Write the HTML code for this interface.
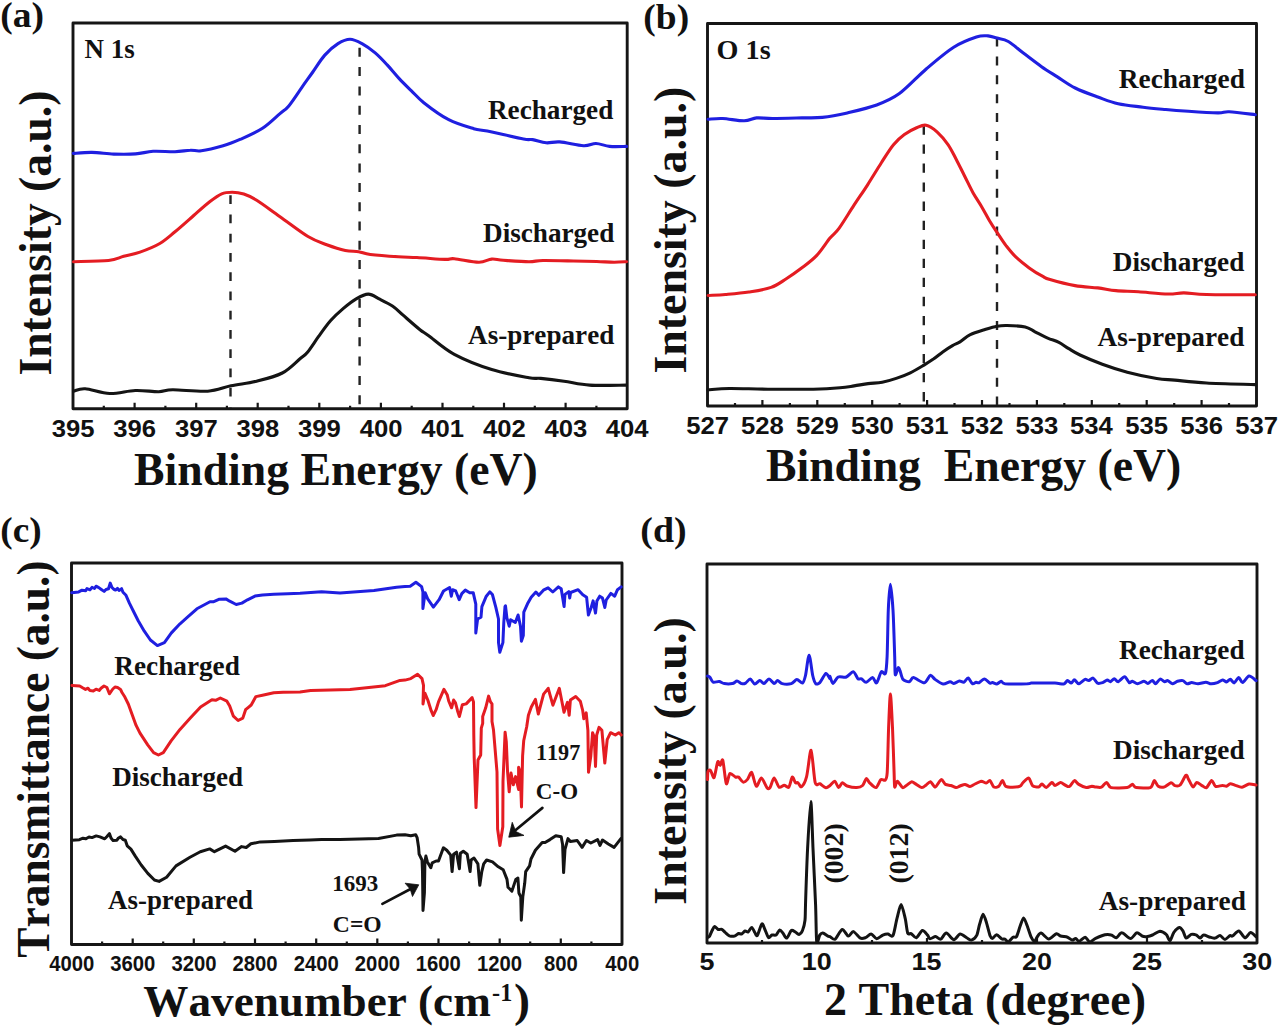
<!DOCTYPE html>
<html><head><meta charset="utf-8"><style>
html,body{margin:0;padding:0;background:#fff;}
body{width:1280px;height:1029px;overflow:hidden;font-family:"Liberation Serif", serif;}
svg{display:block;}
text{font-kerning:none;font-variant-ligatures:none;}
</style></head><body>
<svg width="1280" height="1029" viewBox="0 0 1280 1029">
<rect width="1280" height="1029" fill="#fff"/>
<rect x="73" y="23" width="554.2" height="385.8" fill="none" stroke="#161616" stroke-width="2.9" stroke-linejoin="round"/>
<path d="M134.6,408.8 V402.8 M196.2,408.8 V402.8 M257.7,408.8 V402.8 M319.3,408.8 V402.8 M380.9,408.8 V402.8 M442.5,408.8 V402.8 M504.0,408.8 V402.8 M565.6,408.8 V402.8 M103.8,408.8 V405.8 M165.4,408.8 V405.8 M226.9,408.8 V405.8 M288.5,408.8 V405.8 M350.1,408.8 V405.8 M411.7,408.8 V405.8 M473.3,408.8 V405.8 M534.8,408.8 V405.8 M596.4,408.8 V405.8 " stroke="#161616" stroke-width="2.2" fill="none"/>
<text transform="translate(51.65,437.00) scale(1.0350,1)" font-family='"Liberation Sans", sans-serif' font-weight="bold" font-size="24.80" fill="#111">395</text>
<text transform="translate(113.33,437.00) scale(1.0350,1)" font-family='"Liberation Sans", sans-serif' font-weight="bold" font-size="24.80" fill="#111">396</text>
<text transform="translate(175.01,437.00) scale(1.0350,1)" font-family='"Liberation Sans", sans-serif' font-weight="bold" font-size="24.80" fill="#111">397</text>
<text transform="translate(236.42,437.00) scale(1.0350,1)" font-family='"Liberation Sans", sans-serif' font-weight="bold" font-size="24.80" fill="#111">398</text>
<text transform="translate(298.08,437.00) scale(1.0350,1)" font-family='"Liberation Sans", sans-serif' font-weight="bold" font-size="24.80" fill="#111">399</text>
<text transform="translate(359.81,437.00) scale(1.0350,1)" font-family='"Liberation Sans", sans-serif' font-weight="bold" font-size="24.80" fill="#111">400</text>
<text transform="translate(421.22,437.00) scale(1.0350,1)" font-family='"Liberation Sans", sans-serif' font-weight="bold" font-size="24.80" fill="#111">401</text>
<text transform="translate(482.95,437.00) scale(1.0350,1)" font-family='"Liberation Sans", sans-serif' font-weight="bold" font-size="24.80" fill="#111">402</text>
<text transform="translate(544.48,437.00) scale(1.0350,1)" font-family='"Liberation Sans", sans-serif' font-weight="bold" font-size="24.80" fill="#111">403</text>
<text transform="translate(605.66,437.00) scale(1.0350,1)" font-family='"Liberation Sans", sans-serif' font-weight="bold" font-size="24.80" fill="#111">404</text>
<line x1="230.5" y1="195.2" x2="230.5" y2="407.5" stroke="#222" stroke-width="2.4" stroke-dasharray="8.9 10.35"/>
<line x1="359.6" y1="47.8" x2="359.6" y2="407.5" stroke="#222" stroke-width="2.4" stroke-dasharray="9 10.3"/>
<path d="M73.3,153.4 C76.4,153.2 85.2,152.3 91.9,152.4 C98.7,152.5 106.5,153.8 113.8,154.1 C121.1,154.3 129.0,154.4 135.6,153.9 C142.2,153.4 146.5,151.7 153.1,151.3 C159.7,150.9 168.8,151.9 175.0,151.7 C181.2,151.5 185.9,150.3 190.3,150.2 C194.7,150.0 195.8,151.5 201.3,150.8 C206.8,150.1 216.6,147.7 223.1,145.8 C229.6,143.9 234.0,142.1 240.6,139.2 C247.2,136.3 255.9,132.6 262.5,128.3 C269.1,124.0 275.6,117.3 280.0,113.6 C284.4,109.9 285.1,110.3 288.8,105.9 C292.4,101.5 297.9,93.0 301.9,87.3 C305.9,81.6 309.0,77.4 312.8,72.0 C316.6,66.6 320.6,59.8 324.8,55.1 C329.0,50.4 333.8,46.2 338.0,43.6 C342.2,41.0 346.0,39.2 350.0,39.2 C354.0,39.2 357.8,41.3 362.0,43.6 C366.2,45.9 371.0,49.3 375.2,52.9 C379.4,56.5 383.2,60.6 387.2,64.9 C391.2,69.2 395.2,74.3 399.2,78.6 C403.2,82.9 407.1,86.6 411.2,90.6 C415.4,94.6 417.6,97.8 423.8,102.7 C430.0,107.6 440.4,115.4 448.7,119.7 C457.0,124.0 467.3,126.8 473.7,128.7 C480.1,130.6 479.0,129.3 487.3,131.0 C495.6,132.7 516.0,137.6 523.5,139.0 C531.0,140.4 528.8,139.0 532.6,139.6 C536.4,140.2 541.7,142.4 546.2,142.8 C550.7,143.2 553.6,141.4 559.8,141.9 C566.0,142.4 577.5,145.4 583.5,145.7 C589.5,146.0 591.6,143.4 596.0,143.5 C600.4,143.6 604.5,145.9 609.6,146.4 C614.7,146.9 623.8,146.4 626.6,146.4" fill="none" stroke="#1f1fe0" stroke-width="3.1" stroke-linejoin="round" stroke-linecap="round"/>
<path d="M73.5,261.7 C79.3,261.5 100.1,261.4 108.5,260.5 C116.9,259.6 118.5,257.7 123.7,256.3 C128.9,254.9 134.0,254.2 140.0,252.1 C146.0,250.0 154.0,246.9 159.8,243.5 C165.6,240.1 169.3,236.5 175.0,231.8 C180.7,227.1 187.9,220.6 193.7,215.5 C199.5,210.4 205.3,205.1 210.0,201.5 C214.7,197.9 218.0,195.4 221.7,193.8 C225.4,192.2 228.5,192.2 232.2,192.2 C235.9,192.2 239.7,192.7 243.8,194.0 C247.9,195.3 250.7,196.5 256.7,200.3 C262.7,204.1 271.4,210.7 280.0,216.7 C288.6,222.7 300.2,231.8 308.0,236.5 C315.8,241.2 320.5,242.4 326.7,244.7 C332.9,247.0 340.0,249.3 345.3,250.5 C350.6,251.7 354.5,251.0 358.7,251.7 C362.9,252.4 363.7,253.7 370.3,254.5 C376.9,255.3 390.5,256.3 398.3,256.8 C406.1,257.3 409.2,257.1 417.0,257.5 C424.8,257.9 438.8,259.2 445.0,259.4 C451.2,259.6 448.7,258.2 454.3,258.7 C459.9,259.2 472.6,262.1 478.8,262.2 C485.0,262.3 487.6,259.4 491.7,259.1 C495.8,258.8 497.1,259.9 503.3,260.3 C509.5,260.7 522.4,261.7 529.0,261.7 C535.6,261.7 535.6,260.6 543.0,260.5 C550.4,260.4 564.3,260.8 573.3,261.0 C582.2,261.2 589.9,261.3 596.7,261.5 C603.5,261.7 609.2,262.2 614.2,262.2 C619.2,262.2 624.5,261.8 626.5,261.7" fill="none" stroke="#e41c22" stroke-width="3.1" stroke-linejoin="round" stroke-linecap="round"/>
<path d="M73.5,391.2 C75.5,390.8 79.2,388.4 85.2,388.8 C91.2,389.2 101.3,393.2 109.7,393.5 C118.1,393.8 127.1,390.8 135.3,390.5 C143.5,390.2 152.5,391.8 158.7,391.7 C164.9,391.6 164.5,389.9 172.7,389.8 C180.9,389.7 198.0,391.9 207.7,391.2 C217.4,390.5 222.8,387.5 231.0,385.8 C239.2,384.1 248.1,383.3 256.7,381.2 C265.2,379.1 275.1,376.7 282.3,373.0 C289.5,369.3 295.8,362.2 300.0,358.8 C304.2,355.3 304.4,355.9 307.5,352.2 C310.6,348.4 314.9,341.6 318.8,336.2 C322.6,330.9 326.8,324.9 330.9,320.3 C335.0,315.7 338.9,312.2 343.1,308.6 C347.3,305.0 352.0,301.2 356.2,298.8 C360.5,296.3 364.5,294.0 368.4,294.1 C372.3,294.2 375.6,297.2 379.7,299.2 C383.8,301.2 388.9,303.6 392.8,306.2 C396.7,308.9 398.6,311.3 403.1,315.2 C407.6,319.1 415.7,326.3 420.0,329.7 C424.3,333.1 423.0,331.6 428.7,335.7 C434.4,339.8 443.8,348.7 454.3,354.3 C464.8,359.9 479.2,365.6 491.7,369.5 C504.1,373.4 520.8,376.2 529.0,377.7 C537.2,379.2 534.9,377.8 540.7,378.4 C546.5,379.0 555.8,380.1 564.0,381.2 C572.2,382.3 579.3,384.5 589.7,385.1 C600.1,385.8 620.4,385.1 626.5,385.1" fill="none" stroke="#141414" stroke-width="3.1" stroke-linejoin="round" stroke-linecap="round"/>
<text transform="translate(0.25,27.20) scale(1.0385,1)" font-family='"Liberation Serif", serif' font-weight="bold" font-size="36.17" fill="#111">(a)</text>
<text transform="translate(84.49,57.80) scale(1.0000,1)" font-family='"Liberation Serif", serif' font-weight="bold" font-size="26.95" fill="#111">N 1s</text>
<text transform="translate(487.94,118.50) scale(1.0000,1)" font-family='"Liberation Serif", serif' font-weight="bold" font-size="27.20" fill="#111">Recharged</text>
<text transform="translate(483.02,242.30) scale(1.0000,1)" font-family='"Liberation Serif", serif' font-weight="bold" font-size="27.16" fill="#111">Discharged</text>
<text transform="translate(468.03,343.80) scale(1.0000,1)" font-family='"Liberation Serif", serif' font-weight="bold" font-size="27.15" fill="#111">As-prepared</text>
<text transform="translate(134.04,485.00) scale(1.0000,1)" font-family='"Liberation Serif", serif' font-weight="bold" font-size="45.71" fill="#111">Binding Energy (eV)</text>
<text transform="translate(51.40,375.54) rotate(-90) scale(1.0000,1)" font-family='"Liberation Serif", serif' font-weight="bold" font-size="45.59" fill="#111">Intensity (a.u.)</text>
<rect x="707.5" y="23.5" width="549.0" height="382.5" fill="none" stroke="#161616" stroke-width="2.9" stroke-linejoin="round"/>
<path d="M762.4,406 V400 M817.3,406 V400 M872.2,406 V400 M927.1,406 V400 M982.0,406 V400 M1036.9,406 V400 M1091.8,406 V400 M1146.7,406 V400 M1201.6,406 V400 M735.0,406 V403 M789.9,406 V403 M844.8,406 V403 M899.6,406 V403 M954.5,406 V403 M1009.5,406 V403 M1064.3,406 V403 M1119.2,406 V403 M1174.2,406 V403 M1229.0,406 V403 " stroke="#161616" stroke-width="2.2" fill="none"/>
<text transform="translate(686.24,434.00) scale(1.0400,1)" font-family='"Liberation Sans", sans-serif' font-weight="bold" font-size="24.70" fill="#111">527</text>
<text transform="translate(740.97,434.00) scale(1.0400,1)" font-family='"Liberation Sans", sans-serif' font-weight="bold" font-size="24.70" fill="#111">528</text>
<text transform="translate(795.95,434.00) scale(1.0400,1)" font-family='"Liberation Sans", sans-serif' font-weight="bold" font-size="24.70" fill="#111">529</text>
<text transform="translate(850.90,434.00) scale(1.0400,1)" font-family='"Liberation Sans", sans-serif' font-weight="bold" font-size="24.70" fill="#111">530</text>
<text transform="translate(905.63,434.00) scale(1.0400,1)" font-family='"Liberation Sans", sans-serif' font-weight="bold" font-size="24.70" fill="#111">531</text>
<text transform="translate(960.69,434.00) scale(1.0400,1)" font-family='"Liberation Sans", sans-serif' font-weight="bold" font-size="24.70" fill="#111">532</text>
<text transform="translate(1015.54,434.00) scale(1.0400,1)" font-family='"Liberation Sans", sans-serif' font-weight="bold" font-size="24.70" fill="#111">533</text>
<text transform="translate(1070.04,434.00) scale(1.0400,1)" font-family='"Liberation Sans", sans-serif' font-weight="bold" font-size="24.70" fill="#111">534</text>
<text transform="translate(1125.23,434.00) scale(1.0400,1)" font-family='"Liberation Sans", sans-serif' font-weight="bold" font-size="24.70" fill="#111">535</text>
<text transform="translate(1180.24,434.00) scale(1.0400,1)" font-family='"Liberation Sans", sans-serif' font-weight="bold" font-size="24.70" fill="#111">536</text>
<text transform="translate(1235.24,434.00) scale(1.0400,1)" font-family='"Liberation Sans", sans-serif' font-weight="bold" font-size="24.70" fill="#111">537</text>
<line x1="923.8" y1="125.4" x2="923.8" y2="405" stroke="#222" stroke-width="2.4" stroke-dasharray="9.3 9.75"/>
<line x1="997" y1="37.5" x2="997" y2="405" stroke="#222" stroke-width="2.4" stroke-dasharray="9 9.9"/>
<path d="M708.0,119.2 C710.5,119.1 716.7,118.2 722.7,118.5 C728.7,118.8 738.6,120.9 744.2,120.8 C749.9,120.7 751.9,118.3 756.6,117.9 C761.3,117.5 764.9,118.5 772.5,118.5 C780.1,118.5 793.7,118.1 802.0,117.9 C810.3,117.7 814.8,118.2 822.3,117.4 C829.8,116.6 838.2,115.0 847.3,112.9 C856.4,110.8 868.0,108.2 876.7,105.0 C885.4,101.8 891.1,99.6 899.4,93.6 C907.7,87.5 917.5,76.4 926.5,68.7 C935.5,61.0 945.4,52.5 953.7,47.2 C962.0,41.9 970.7,38.9 976.4,37.0 C982.1,35.1 984.6,35.7 988.0,35.9 C991.4,36.1 993.6,37.2 997.0,38.1 C1000.4,39.0 1004.0,39.0 1008.3,41.5 C1012.6,44.0 1017.5,48.6 1023.0,52.8 C1028.5,56.9 1035.5,62.4 1041.2,66.4 C1046.9,70.4 1051.3,73.0 1057.0,76.6 C1062.7,80.2 1068.4,84.6 1075.2,88.0 C1082.0,91.4 1090.6,94.4 1097.8,97.0 C1105.0,99.6 1110.7,102.1 1118.2,103.8 C1125.8,105.5 1135.2,106.2 1143.1,107.2 C1151.0,108.2 1158.2,108.8 1165.8,109.5 C1173.3,110.2 1179.7,110.7 1188.4,111.3 C1197.1,111.9 1211.1,112.8 1217.9,112.9 C1224.7,113.0 1223.0,111.5 1229.2,111.8 C1235.4,112.1 1251.0,114.2 1255.3,114.7" fill="none" stroke="#1f1fe0" stroke-width="3.1" stroke-linejoin="round" stroke-linecap="round"/>
<path d="M708.1,295.5 C711.0,295.3 718.6,295.1 725.4,294.5 C732.2,293.9 741.1,293.2 748.8,292.0 C756.4,290.8 764.8,289.6 771.1,287.4 C777.4,285.2 781.2,282.0 786.3,278.8 C791.4,275.5 796.5,272.0 801.6,268.1 C806.7,264.2 812.1,260.4 816.8,255.4 C821.5,250.4 826.3,242.6 830.0,238.1 C833.7,233.6 835.0,233.9 839.0,228.4 C843.0,222.9 849.2,212.5 854.0,205.2 C858.8,197.9 863.1,191.8 867.6,184.8 C872.1,177.8 876.9,169.7 881.2,163.0 C885.5,156.3 889.6,149.4 893.5,144.7 C897.4,139.9 900.5,137.3 904.4,134.5 C908.2,131.7 913.0,129.2 916.6,127.7 C920.2,126.2 922.7,124.5 926.1,125.2 C929.5,125.9 933.3,128.5 937.0,131.8 C940.7,135.1 945.0,140.2 948.2,144.8 C951.4,149.5 953.6,154.5 956.4,159.7 C959.1,164.9 961.9,170.7 964.7,176.2 C967.5,181.7 970.2,187.7 973.0,192.7 C975.8,197.7 978.5,201.3 981.2,206.0 C984.0,210.7 986.9,216.4 989.5,220.8 C992.1,225.2 994.2,228.3 997.0,232.4 C999.8,236.5 1002.8,241.5 1006.0,245.6 C1009.2,249.7 1012.1,253.5 1016.0,257.2 C1019.9,260.9 1024.8,264.7 1029.2,267.9 C1033.6,271.1 1038.9,274.3 1042.4,276.2 C1045.9,278.1 1044.6,277.9 1050.0,279.5 C1055.4,281.1 1067.0,284.2 1075.0,285.6 C1083.0,287.0 1091.0,287.1 1097.8,287.9 C1104.6,288.7 1109.2,290.0 1116.0,290.6 C1122.8,291.2 1129.9,291.2 1138.6,291.8 C1147.3,292.4 1160.4,293.8 1168.0,294.0 C1175.6,294.2 1177.6,292.8 1184.0,292.9 C1190.4,293.0 1194.6,294.2 1206.5,294.5 C1218.4,294.8 1247.2,294.7 1255.3,294.7" fill="none" stroke="#e41c22" stroke-width="3.1" stroke-linejoin="round" stroke-linecap="round"/>
<path d="M708.0,389.8 C711.6,389.6 719.5,388.6 729.5,388.5 C739.5,388.4 754.0,389.1 768.0,389.2 C782.0,389.3 801.3,389.4 813.3,389.2 C825.3,389.0 833.2,388.4 840.0,387.8 C846.8,387.2 849.4,386.6 854.1,385.9 C858.8,385.2 863.4,384.2 868.1,383.6 C872.8,383.0 877.5,383.1 882.2,382.2 C886.9,381.3 891.6,380.0 896.2,378.4 C900.9,376.8 905.6,375.1 910.3,372.8 C915.0,370.5 920.5,367.1 924.4,364.8 C928.3,362.5 930.6,360.9 933.8,358.8 C936.9,356.6 940.0,353.9 943.1,351.7 C946.2,349.5 949.7,347.2 952.5,345.6 C955.3,344.0 957.0,343.7 960.0,341.9 C963.0,340.1 966.2,336.6 970.3,334.6 C974.4,332.6 979.9,331.1 984.4,329.7 C988.9,328.3 993.2,326.9 997.0,326.2 C1000.8,325.5 1002.2,325.4 1006.9,325.5 C1011.6,325.6 1020.5,325.8 1025.2,326.9 C1029.9,327.9 1031.2,329.9 1035.0,331.8 C1038.8,333.7 1043.7,336.4 1047.7,338.1 C1051.7,339.9 1055.4,340.5 1058.9,342.3 C1062.4,344.1 1065.3,346.6 1068.8,348.7 C1072.3,350.8 1074.4,352.4 1080.0,355.0 C1085.6,357.6 1094.4,361.3 1102.3,364.2 C1110.2,367.1 1118.2,369.8 1127.3,372.2 C1136.4,374.6 1148.8,377.2 1156.7,378.5 C1164.6,379.8 1166.5,379.4 1174.8,380.1 C1183.1,380.9 1193.1,382.2 1206.5,383.0 C1219.9,383.8 1247.2,384.3 1255.3,384.6" fill="none" stroke="#141414" stroke-width="3.1" stroke-linejoin="round" stroke-linecap="round"/>
<text transform="translate(643.35,29.06) scale(1.0584,1)" font-family='"Liberation Serif", serif' font-weight="bold" font-size="35.40" fill="#111">(b)</text>
<text transform="translate(716.62,58.50) scale(1.0000,1)" font-family='"Liberation Serif", serif' font-weight="bold" font-size="28.20" fill="#111">O 1s</text>
<text transform="translate(1118.83,88.00) scale(1.0000,1)" font-family='"Liberation Serif", serif' font-weight="bold" font-size="27.35" fill="#111">Recharged</text>
<text transform="translate(1112.72,271.40) scale(1.0000,1)" font-family='"Liberation Serif", serif' font-weight="bold" font-size="27.23" fill="#111">Discharged</text>
<text transform="translate(1097.53,346.00) scale(1.0000,1)" font-family='"Liberation Serif", serif' font-weight="bold" font-size="27.24" fill="#111">As-prepared</text>
<text transform="translate(765.94,481.00) scale(1.0000,1)" font-family='"Liberation Serif", serif' font-weight="bold" font-size="45.73" fill="#111">Binding  Energy (eV)</text>
<text transform="translate(686.30,373.55) rotate(-90) scale(1.0000,1)" font-family='"Liberation Serif", serif' font-weight="bold" font-size="45.88" fill="#111">Intensity (a.u.)</text>
<rect x="71.5" y="563" width="550.5" height="381.5" fill="none" stroke="#161616" stroke-width="2.9" stroke-linejoin="round"/>
<path d="M132.7,944.5 V938.5 M193.8,944.5 V938.5 M255.0,944.5 V938.5 M316.2,944.5 V938.5 M377.3,944.5 V938.5 M438.5,944.5 V938.5 M499.7,944.5 V938.5 M560.8,944.5 V938.5 M102.1,944.5 V941.5 M163.2,944.5 V941.5 M224.4,944.5 V941.5 M285.6,944.5 V941.5 M346.8,944.5 V941.5 M407.9,944.5 V941.5 M469.1,944.5 V941.5 M530.2,944.5 V941.5 M591.4,944.5 V941.5 " stroke="#161616" stroke-width="2.2" fill="none"/>
<text transform="translate(49.19,970.50) scale(0.9350,1)" font-family='"Liberation Sans", sans-serif' font-weight="bold" font-size="21.70" fill="#111">4000</text>
<text transform="translate(110.28,970.50) scale(0.9350,1)" font-family='"Liberation Sans", sans-serif' font-weight="bold" font-size="21.70" fill="#111">3600</text>
<text transform="translate(171.45,970.50) scale(0.9350,1)" font-family='"Liberation Sans", sans-serif' font-weight="bold" font-size="21.70" fill="#111">3200</text>
<text transform="translate(232.50,970.50) scale(0.9350,1)" font-family='"Liberation Sans", sans-serif' font-weight="bold" font-size="21.70" fill="#111">2800</text>
<text transform="translate(293.66,970.50) scale(0.9350,1)" font-family='"Liberation Sans", sans-serif' font-weight="bold" font-size="21.70" fill="#111">2400</text>
<text transform="translate(354.83,970.50) scale(0.9350,1)" font-family='"Liberation Sans", sans-serif' font-weight="bold" font-size="21.70" fill="#111">2000</text>
<text transform="translate(415.71,970.50) scale(0.9350,1)" font-family='"Liberation Sans", sans-serif' font-weight="bold" font-size="21.70" fill="#111">1600</text>
<text transform="translate(476.88,970.50) scale(0.9350,1)" font-family='"Liberation Sans", sans-serif' font-weight="bold" font-size="21.70" fill="#111">1200</text>
<text transform="translate(544.00,970.50) scale(0.9350,1)" font-family='"Liberation Sans", sans-serif' font-weight="bold" font-size="21.70" fill="#111">800</text>
<text transform="translate(605.34,970.50) scale(0.9350,1)" font-family='"Liberation Sans", sans-serif' font-weight="bold" font-size="21.70" fill="#111">400</text>
<path d="M71.7,592.7 L78.7,591.9 L82.0,590.2 L85.7,590.8 L87.0,588.6 L90.0,589.8 L92.0,587.4 L94.5,588.5 L96.0,586.2 L98.8,587.6 L101.0,589.2 L104.1,591.4 L106.0,589.5 L108.5,588.8 L110.2,583.1 L112.0,587.5 L114.0,589.4 L115.5,590.1 L117.5,588.4 L119.0,590.5 L121.6,588.7 L123.0,592.3 L126.0,595.3 L129.4,603.2 L133.8,612.0 L138.2,620.7 L144.3,631.2 L150.4,640.0 L157.4,645.6 L164.4,642.6 L171.4,632.9 L180.0,623.8 L187.5,617.2 L196.9,608.8 L210.0,601.7 L213.8,601.7 L219.4,599.2 L225.9,598.9 L229.7,601.2 L236.2,604.5 L241.9,603.1 L247.5,599.8 L255.0,596.1 L262.5,594.9 L273.8,594.2 L287.8,593.8 L300.0,593.3 L321.6,591.7 L340.0,592.9 L374.0,590.6 L396.6,587.2 L405.0,586.6 L410.2,586.2 L415.9,582.2 L421.6,586.6 L422.9,591.9 L422.9,608.5 L425.1,592.7 L427.7,598.8 L433.4,607.1 L439.1,599.7 L443.5,591.0 L449.6,587.5 L451.3,596.2 L452.6,589.7 L455.7,591.0 L459.2,599.7 L461.8,593.6 L465.3,590.1 L469.7,592.7 L473.2,592.7 L475.8,604.1 L475.8,633.0 L477.6,619.0 L481.0,617.2 L481.9,606.7 L486.3,596.2 L489.8,591.9 L492.4,594.5 L495.9,607.6 L498.5,619.0 L498.5,642.6 L499.8,652.2 L502.9,642.6 L503.8,622.4 L505.0,606.6 L505.5,605.8 L506.9,617.8 L509.2,626.2 L510.6,619.7 L515.3,622.5 L518.1,615.0 L520.5,626.2 L521.4,641.2 L523.3,635.6 L523.8,612.2 L527.5,603.8 L531.2,597.2 L535.9,592.0 L538.8,595.3 L543.4,590.2 L548.1,587.8 L552.8,592.0 L558.4,586.9 L561.2,588.8 L564.1,606.6 L565.0,594.4 L568.8,591.6 L569.7,598.1 L570.6,592.5 L578.1,589.7 L582.8,594.8 L586.6,597.2 L588.4,615.0 L591.2,607.5 L593.1,600.9 L595.5,613.1 L596.9,600.9 L599.7,596.2 L602.5,598.1 L604.8,607.5 L606.2,600.0 L610.9,593.4 L614.7,596.2 L617.5,589.7 L621.2,586.9" fill="none" stroke="#1f1fe0" stroke-width="3.0" stroke-linejoin="round" stroke-linecap="round"/>
<path d="M71.9,685.5 L79.7,686.0 L83.0,688.0 L85.5,689.4 L88.0,688.2 L90.0,690.6 L93.3,690.9 L96.0,689.2 L99.2,690.4 L101.0,688.3 L104.0,686.0 L106.9,687.5 L109.4,693.8 L112.8,689.0 L115.0,687.0 L117.6,687.5 L120.5,689.4 L122.0,692.5 L124.4,696.2 L128.3,704.0 L132.2,714.7 L136.1,725.4 L140.0,733.2 L147.7,744.8 L153.6,752.6 L158.4,755.0 L163.3,752.6 L171.1,740.9 L180.0,729.4 L190.3,718.1 L200.6,706.9 L211.9,699.8 L215.6,700.3 L220.3,698.0 L226.9,701.2 L229.7,706.0 L233.4,716.2 L238.1,720.5 L242.8,718.1 L245.6,709.7 L248.4,707.3 L251.2,705.0 L255.9,696.6 L262.5,695.2 L273.8,692.8 L283.1,692.3 L300.0,691.9 L310.6,690.6 L350.0,689.5 L385.3,685.7 L400.0,680.4 L405.0,680.1 L410.8,678.6 L417.6,674.2 L422.0,678.6 L423.5,685.4 L423.0,703.9 L424.9,693.2 L427.8,700.0 L431.2,710.7 L433.2,715.5 L436.1,709.7 L438.5,701.9 L443.9,689.3 L447.3,695.1 L448.7,701.0 L451.6,707.8 L453.6,700.0 L455.5,702.9 L457.5,710.7 L459.4,716.5 L462.3,704.8 L466.2,703.9 L472.1,697.6 L473.5,701.9 L473.8,735.0 L474.2,758.0 L476.0,807.6 L478.0,760.0 L480.7,755.0 L481.3,728.2 L482.7,723.3 L482.7,716.5 L485.7,707.8 L488.6,696.1 L490.5,701.9 L492.0,703.9 L492.0,721.4 L493.5,730.0 L497.0,772.0 L497.6,829.0 L499.9,845.5 L502.8,826.8 L503.0,781.3 L505.1,732.3 L506.3,741.7 L507.5,770.8 L509.2,791.8 L511.0,773.1 L513.3,784.8 L515.6,776.6 L518.6,789.5 L518.6,767.3 L520.2,772.0 L521.5,807.0 L522.6,756.0 L523.7,740.8 L526.7,726.8 L528.4,715.2 L531.3,707.0 L535.4,699.4 L538.3,714.0 L543.6,694.2 L548.2,688.3 L552.9,705.2 L559.3,688.3 L564.0,712.2 L567.5,702.3 L569.2,715.2 L570.4,700.0 L575.7,696.5 L580.3,701.2 L582.7,710.5 L583.8,718.7 L586.2,712.8 L587.9,730.3 L588.5,772.3 L590.8,756.0 L592.6,732.7 L594.3,737.3 L595.5,766.5 L596.7,735.0 L599.0,727.4 L601.9,730.3 L604.8,763.0 L607.2,739.7 L610.6,732.7 L615.3,735.0 L618.8,732.7 L621.2,735.0" fill="none" stroke="#e41c22" stroke-width="3.0" stroke-linejoin="round" stroke-linecap="round"/>
<path d="M71.9,840.2 L79.4,839.7 L83.0,838.2 L85.9,838.8 L89.0,837.0 L92.0,837.6 L96.2,835.9 L100.0,836.9 L104.7,838.8 L107.0,836.5 L109.4,833.6 L111.0,838.0 L113.1,840.6 L116.9,840.2 L118.5,838.0 L120.6,836.9 L123.0,839.5 L125.3,840.2 L127.2,845.8 L130.9,849.1 L135.6,856.6 L141.2,865.0 L147.8,873.4 L154.4,880.0 L159.1,881.4 L166.6,877.2 L176.0,865.9 L190.0,857.3 L200.3,851.7 L209.7,848.9 L214.4,851.7 L225.6,846.1 L235.0,851.2 L241.6,846.6 L246.2,847.5 L250.9,843.8 L260.3,841.9 L274.4,841.4 L293.1,840.5 L310.0,840.0 L321.6,839.4 L340.0,839.6 L378.5,838.5 L396.6,835.1 L405.0,834.7 L410.8,835.7 L415.7,834.7 L417.1,837.6 L418.6,847.4 L419.1,854.2 L422.0,860.0 L422.5,871.6 L423.0,910.5 L424.4,893.0 L424.9,861.9 L425.9,856.1 L427.4,861.9 L430.8,867.8 L432.2,862.9 L436.1,861.0 L438.5,861.0 L443.4,847.8 L446.8,850.3 L450.7,855.1 L452.1,871.6 L453.6,854.2 L456.5,852.2 L459.4,868.7 L460.4,853.2 L463.3,851.2 L467.2,854.2 L470.1,871.6 L471.1,860.0 L474.0,858.0 L477.9,863.9 L479.8,885.3 L481.8,871.6 L483.7,863.9 L486.6,860.0 L492.5,861.9 L498.3,866.8 L503.2,869.7 L507.0,879.4 L508.0,887.2 L511.9,891.1 L515.8,879.4 L517.9,878.0 L518.9,893.0 L520.8,896.9 L521.3,920.2 L522.8,896.9 L524.7,883.3 L525.7,871.6 L529.6,865.8 L531.0,859.0 L535.4,850.3 L542.2,842.5 L545.1,842.5 L550.0,839.6 L555.8,835.7 L561.2,836.7 L562.6,844.4 L563.6,872.6 L565.0,849.3 L568.0,838.6 L570.4,841.5 L577.2,840.5 L582.1,847.4 L586.4,840.5 L590.8,843.0 L597.6,839.6 L600.0,845.4 L602.5,840.0 L608.3,844.0 L614.1,847.4 L620.9,838.6" fill="none" stroke="#141414" stroke-width="3.0" stroke-linejoin="round" stroke-linecap="round"/>
<line x1="542.4" y1="807.9" x2="514.5" y2="831" stroke="#111" stroke-width="2.7" stroke-linecap="round"/>
<path d="M508.75,837.2 L512.25,822.3 L515.75,831.5 L524,835.4 Z" fill="#111" stroke="#111" stroke-width="0.8" stroke-linejoin="round"/>
<line x1="382.4" y1="903.9" x2="411" y2="888.7" stroke="#111" stroke-width="2.7" stroke-linecap="round"/>
<path d="M418.75,884.8 L405.1,883.2 L410.2,889.1 L412.5,896.5 Z" fill="#111" stroke="#111" stroke-width="0.8" stroke-linejoin="round"/>
<text transform="translate(0.26,542.37) scale(1.0401,1)" font-family='"Liberation Serif", serif' font-weight="bold" font-size="35.84" fill="#111">(c)</text>
<text transform="translate(114.33,674.90) scale(1.0000,1)" font-family='"Liberation Serif", serif' font-weight="bold" font-size="27.22" fill="#111">Recharged</text>
<text transform="translate(112.22,786.40) scale(1.0000,1)" font-family='"Liberation Serif", serif' font-weight="bold" font-size="27.08" fill="#111">Discharged</text>
<text transform="translate(108.04,909.40) scale(1.0000,1)" font-family='"Liberation Serif", serif' font-weight="bold" font-size="26.90" fill="#111">As-prepared</text>
<text transform="translate(535.93,759.50) scale(1.0000,1)" font-family='"Liberation Serif", serif' font-weight="bold" font-size="22.16" fill="#111">1197</text>
<text transform="translate(535.87,799.00) scale(1.0000,1)" font-family='"Liberation Serif", serif' font-weight="bold" font-size="23.05" fill="#111">C-O</text>
<text transform="translate(332.16,890.60) scale(1.0000,1)" font-family='"Liberation Serif", serif' font-weight="bold" font-size="23.01" fill="#111">1693</text>
<text transform="translate(332.85,932.00) scale(1.0000,1)" font-family='"Liberation Serif", serif' font-weight="bold" font-size="23.58" fill="#111">C=O</text>
<text transform="translate(143.36,1016.00) scale(1.0000,1)" font-family='"Liberation Serif", serif' font-weight="bold" font-size="45.16" fill="#111">Wavenumber (cm</text>
<text transform="translate(492.11,1000.60) scale(0.9669,1)" font-family='"Liberation Serif", serif' font-weight="bold" font-size="25.00" fill="#111">-1</text>
<text transform="translate(514.04,1016.00) scale(1.0611,1)" font-family='"Liberation Serif", serif' font-weight="bold" font-size="45.50" fill="#111">)</text>
<text transform="translate(48.60,957.71) rotate(-90) scale(1.0000,1)" font-family='"Liberation Serif", serif' font-weight="bold" font-size="45.41" fill="#111">Transmittance (a.u.)</text>
<rect x="707" y="564" width="550" height="379" fill="none" stroke="#161616" stroke-width="2.9" stroke-linejoin="round"/>
<path d="M817.0,943 V938 M927.0,943 V938 M1037.0,943 V938 M1147.0,943 V938 M762.0,943 V940 M872.0,943 V940 M982.0,943 V940 M1092.0,943 V940 M1202.0,943 V940 " stroke="#161616" stroke-width="2.2" fill="none"/>
<text transform="translate(699.48,970.00) scale(1.1400,1)" font-family='"Liberation Sans", sans-serif' font-weight="bold" font-size="23.60" fill="#111">5</text>
<text transform="translate(801.74,970.00) scale(1.1400,1)" font-family='"Liberation Sans", sans-serif' font-weight="bold" font-size="23.60" fill="#111">10</text>
<text transform="translate(911.56,970.00) scale(1.1400,1)" font-family='"Liberation Sans", sans-serif' font-weight="bold" font-size="23.60" fill="#111">15</text>
<text transform="translate(1022.12,970.00) scale(1.1400,1)" font-family='"Liberation Sans", sans-serif' font-weight="bold" font-size="23.60" fill="#111">20</text>
<text transform="translate(1131.95,970.00) scale(1.1400,1)" font-family='"Liberation Sans", sans-serif' font-weight="bold" font-size="23.60" fill="#111">25</text>
<text transform="translate(1242.28,970.00) scale(1.1400,1)" font-family='"Liberation Sans", sans-serif' font-weight="bold" font-size="23.60" fill="#111">30</text>
<path d="M707.5,676.0 C707.8,676.2 709.4,676.7 710.1,677.5 C710.8,678.3 711.9,681.6 713.1,682.1 C714.3,682.6 717.7,681.4 719.2,681.6 C720.7,681.8 722.5,683.3 724.3,683.6 C726.1,683.9 730.7,683.9 732.4,683.6 C734.1,683.3 735.8,681.1 737.0,681.1 C738.2,681.1 740.5,683.3 741.6,683.6 C742.7,683.9 744.5,683.7 745.6,683.1 C746.7,682.5 749.0,678.9 750.2,679.0 C751.4,679.1 753.5,683.9 754.8,684.1 C756.1,684.3 758.6,680.6 759.8,680.5 C761.0,680.4 762.7,683.8 763.9,683.6 C765.1,683.4 767.6,679.0 769.0,679.0 C770.4,679.0 773.0,683.4 774.1,683.6 C775.2,683.8 776.5,680.5 777.6,680.5 C778.7,680.5 780.4,683.2 782.2,683.6 C784.0,684.0 789.3,684.1 791.3,683.6 C793.3,683.1 795.4,679.6 796.9,679.5 C798.4,679.4 801.4,683.6 802.5,683.1 C803.6,682.6 804.6,679.2 805.5,675.5 C806.4,671.8 808.1,655.2 809.1,655.2 C810.1,655.2 811.8,671.7 812.7,675.5 C813.6,679.3 814.8,682.7 815.7,683.6 C816.6,684.5 818.4,684.0 819.8,682.6 C821.2,681.2 824.6,673.9 825.9,673.4 C827.2,672.9 829.4,678.1 829.9,678.5 C830.4,678.9 829.6,675.7 830.0,676.4 C830.4,677.1 831.8,683.3 832.9,683.4 C834.0,683.5 836.4,677.9 838.2,677.0 C840.0,676.1 844.3,677.7 846.3,677.0 C848.3,676.3 851.7,671.6 853.3,671.8 C854.9,672.0 856.9,677.9 858.0,678.8 C859.1,679.7 860.4,678.3 861.5,678.8 C862.6,679.3 864.6,682.5 866.1,682.3 C867.6,682.1 871.2,677.5 872.6,677.6 C874.0,677.7 875.4,683.6 876.6,682.8 C877.8,682.0 880.1,673.0 881.3,671.8 C882.5,670.6 884.6,675.5 885.4,673.5 C886.2,671.5 886.7,665.1 887.1,656.6 C887.5,648.1 887.9,619.6 888.3,610.0 C888.7,600.4 889.8,584.3 890.4,584.3 C891.0,584.3 892.4,600.4 893.0,610.0 C893.6,619.6 894.4,648.0 894.7,656.6 C895.0,665.2 894.8,673.2 895.3,674.7 C895.8,676.2 897.6,668.2 898.2,667.7 C898.8,667.2 899.4,669.1 900.0,670.6 C900.6,672.1 901.7,677.8 902.9,679.3 C904.1,680.8 907.9,681.9 909.3,681.7 C910.7,681.5 911.4,677.5 913.4,677.6 C915.4,677.7 922.1,683.1 924.4,682.8 C926.7,682.5 928.9,675.8 930.3,675.3 C931.7,674.8 933.2,678.1 934.9,679.3 C936.6,680.5 941.1,683.7 943.1,684.0 C945.1,684.3 948.7,681.8 950.1,681.7 C951.5,681.6 952.4,683.5 953.6,683.4 C954.8,683.3 958.0,681.3 959.4,681.1 C960.8,680.9 962.6,682.6 963.8,682.2 C964.9,681.9 966.9,677.9 968.1,678.1 C969.3,678.3 971.4,683.2 972.5,683.8 C973.6,684.3 975.4,682.4 976.2,682.2 C977.1,682.1 977.7,683.2 978.8,682.8 C979.8,682.3 982.9,679.0 984.4,679.0 C985.9,679.0 988.9,682.6 990.0,683.1 C991.1,683.6 991.6,682.4 992.5,682.5 C993.4,682.6 995.7,684.2 996.9,684.0 C998.1,683.8 1000.2,681.3 1001.2,681.2 C1002.3,681.2 1001.5,683.4 1005.0,683.8 C1008.5,684.1 1024.0,683.9 1027.5,683.8 C1031.0,683.6 1030.1,683.0 1031.2,682.9 C1032.4,682.8 1033.1,683.1 1036.2,683.1 C1039.4,683.1 1051.3,683.0 1055.0,683.1 C1058.7,683.2 1062.1,684.3 1063.8,684.0 C1065.4,683.7 1066.5,680.7 1067.5,680.6 C1068.5,680.5 1070.3,683.2 1071.2,683.1 C1072.2,683.0 1073.4,679.7 1074.4,679.8 C1075.4,679.8 1077.3,683.8 1078.8,683.8 C1080.2,683.7 1083.7,679.8 1085.0,679.4 C1086.3,679.0 1087.7,680.8 1088.8,680.6 C1089.8,680.4 1091.9,677.8 1093.1,678.1 C1094.3,678.4 1096.3,682.6 1097.6,683.2 C1098.9,683.8 1101.4,683.0 1102.7,682.6 C1104.0,682.2 1106.2,680.1 1107.2,680.0 C1108.2,679.9 1109.6,681.9 1110.5,681.7 C1111.4,681.5 1113.3,678.7 1114.3,678.7 C1115.3,678.7 1116.8,682.0 1118.2,681.7 C1119.6,681.4 1123.1,676.7 1124.6,676.8 C1126.1,676.9 1128.2,682.0 1129.2,682.6 C1130.2,683.2 1131.3,681.1 1132.4,681.3 C1133.5,681.5 1136.0,683.8 1137.5,683.8 C1139.0,683.8 1142.6,681.3 1144.0,681.3 C1145.4,681.3 1146.7,683.6 1147.8,683.5 C1148.9,683.4 1151.4,680.4 1152.4,680.4 C1153.4,680.4 1154.6,684.0 1155.6,683.8 C1156.6,683.6 1158.9,679.4 1160.1,679.1 C1161.3,678.8 1163.6,681.5 1164.6,681.7 C1165.6,681.9 1166.8,680.3 1167.8,680.6 C1168.8,680.9 1171.0,683.7 1172.3,683.8 C1173.6,683.9 1176.1,681.7 1177.5,681.3 C1178.9,680.9 1181.4,680.3 1182.7,680.6 C1184.0,680.9 1186.0,683.5 1187.2,683.8 C1188.4,684.1 1190.2,682.6 1191.7,682.6 C1193.2,682.6 1196.2,683.9 1198.1,683.8 C1200.0,683.7 1204.2,682.2 1205.9,682.2 C1207.6,682.2 1209.5,683.7 1211.0,683.8 C1212.5,683.9 1216.0,683.1 1217.5,682.6 C1219.0,682.1 1221.4,680.1 1222.6,680.0 C1223.8,679.9 1225.5,682.0 1226.5,681.9 C1227.5,681.8 1229.3,679.2 1230.3,679.3 C1231.3,679.4 1233.1,683.2 1234.2,682.9 C1235.3,682.6 1237.6,677.4 1238.7,677.4 C1239.8,677.4 1241.2,682.8 1242.6,682.6 C1244.0,682.4 1247.2,676.4 1249.0,676.1 C1250.8,675.8 1255.2,680.0 1256.1,680.6" fill="none" stroke="#1f1fe0" stroke-width="3.0" stroke-linejoin="round" stroke-linecap="round"/>
<path d="M707.5,779.6 C707.6,778.5 707.6,772.7 708.0,771.5 C708.4,770.3 709.8,769.7 710.6,770.5 C711.4,771.3 713.2,778.8 714.1,777.6 C715.0,776.4 716.9,763.4 717.7,761.8 C718.5,760.2 719.5,765.6 720.2,765.4 C720.9,765.2 722.0,757.9 722.8,760.3 C723.6,762.7 725.4,781.9 726.3,783.7 C727.2,785.5 728.7,774.4 729.9,773.5 C731.1,772.6 734.4,776.6 735.5,777.1 C736.6,777.6 737.5,776.4 738.5,777.1 C739.5,777.8 741.9,781.8 743.1,782.1 C744.3,782.4 746.6,780.4 747.7,779.1 C748.8,777.8 750.6,771.6 751.7,772.5 C752.8,773.4 755.0,785.5 756.3,786.2 C757.6,786.9 760.0,777.9 761.4,778.1 C762.8,778.3 765.9,786.4 767.0,787.7 C768.1,789.0 769.1,789.0 770.0,787.7 C770.9,786.4 772.9,778.2 774.1,778.1 C775.3,778.0 777.8,786.3 779.1,787.2 C780.4,788.1 782.9,785.2 784.2,785.2 C785.5,785.2 787.7,788.3 788.8,787.2 C789.9,786.1 791.4,777.7 792.3,777.1 C793.2,776.5 794.7,782.0 795.4,782.7 C796.1,783.4 797.1,782.2 797.9,782.7 C798.7,783.2 800.3,787.5 801.5,786.7 C802.7,785.9 805.3,781.5 806.6,776.6 C807.9,771.7 810.0,749.4 811.1,750.2 C812.2,751.0 814.0,778.2 815.2,782.7 C816.4,787.2 818.4,783.0 819.8,783.7 C821.2,784.4 824.5,787.5 825.9,787.7 C827.3,787.9 828.8,786.4 830.0,785.5 C831.2,784.6 833.7,780.9 834.8,781.2 C835.9,781.5 837.6,787.4 838.6,787.6 C839.6,787.8 841.2,783.0 842.3,782.8 C843.4,782.6 845.2,785.4 847.1,786.0 C849.0,786.6 854.6,787.7 856.7,787.6 C858.8,787.5 861.3,786.7 862.6,785.5 C863.9,784.3 865.4,778.9 866.3,778.5 C867.2,778.1 868.3,781.6 869.6,782.8 C870.9,784.0 874.5,788.0 876.0,787.6 C877.5,787.2 879.6,780.6 880.8,779.6 C882.0,778.6 884.2,781.0 885.1,780.1 C886.0,779.2 886.7,779.7 887.2,772.7 C887.7,765.7 888.2,738.3 888.6,727.8 C889.0,717.3 889.9,694.1 890.4,694.1 C890.9,694.1 892.0,717.3 892.5,727.8 C893.0,738.3 893.8,764.8 894.1,772.7 C894.4,780.6 894.3,786.0 894.7,787.1 C895.1,788.2 896.3,781.1 897.4,781.2 C898.5,781.3 901.4,787.1 902.7,787.6 C904.0,788.1 905.8,785.8 907.0,785.0 C908.2,784.2 910.7,781.8 911.8,781.7 C912.9,781.6 914.2,783.1 915.5,783.9 C916.8,784.7 920.5,787.5 921.9,787.6 C923.3,787.7 925.1,785.8 926.2,785.0 C927.3,784.2 929.3,781.4 930.5,781.7 C931.7,782.0 933.9,787.4 935.3,787.1 C936.7,786.8 939.8,780.0 941.2,779.6 C942.6,779.2 944.2,783.6 945.5,784.4 C946.8,785.2 949.4,785.1 950.8,785.5 C952.2,785.9 954.9,787.5 956.1,787.6 C957.3,787.7 958.8,786.4 960.0,786.0 C961.2,785.6 963.7,784.3 965.0,784.4 C966.3,784.5 968.7,786.6 970.0,786.5 C971.3,786.4 973.5,784.7 975.0,784.0 C976.5,783.3 979.8,781.4 981.2,781.2 C982.8,781.1 985.1,783.2 986.2,783.1 C987.4,783.0 989.0,780.1 990.0,780.6 C991.0,781.1 992.6,786.1 993.8,786.9 C994.9,787.7 997.6,787.1 998.8,786.2 C999.9,785.4 1001.6,780.6 1002.5,780.6 C1003.4,780.6 1004.3,785.4 1005.6,786.2 C1006.9,787.1 1010.6,787.2 1012.5,787.2 C1014.4,787.2 1018.6,786.9 1020.0,786.2 C1021.4,785.6 1021.9,783.6 1023.1,782.5 C1024.3,781.4 1027.5,777.7 1028.8,778.1 C1030.0,778.5 1031.2,784.4 1032.5,785.6 C1033.8,786.8 1037.5,787.1 1038.8,786.9 C1040.0,786.7 1040.9,783.9 1041.9,784.0 C1042.9,784.1 1044.9,787.7 1046.2,787.5 C1047.6,787.3 1050.7,782.8 1051.9,782.5 C1053.1,782.2 1053.8,785.6 1055.0,785.6 C1056.2,785.6 1059.3,782.6 1060.6,782.5 C1061.9,782.4 1063.8,784.5 1065.0,785.0 C1066.2,785.5 1068.1,787.1 1069.4,786.5 C1070.7,785.9 1073.2,780.9 1074.4,780.6 C1075.6,780.3 1077.2,783.5 1078.8,784.4 C1080.3,785.3 1084.5,787.3 1086.2,787.5 C1088.0,787.7 1090.7,786.3 1091.9,786.2 C1093.1,786.2 1093.7,786.8 1095.0,786.9 C1096.3,787.0 1099.9,787.8 1101.4,787.2 C1102.9,786.6 1105.3,782.3 1106.6,782.4 C1107.9,782.5 1108.4,786.9 1111.1,787.6 C1113.8,788.3 1124.4,788.0 1127.2,787.6 C1130.0,787.2 1131.2,784.3 1132.4,784.3 C1133.6,784.3 1133.8,787.2 1136.2,787.6 C1138.6,788.0 1148.0,788.5 1150.4,787.6 C1152.8,786.7 1153.3,780.7 1154.3,780.5 C1155.3,780.3 1156.8,785.4 1158.2,786.3 C1159.6,787.2 1162.9,787.4 1164.6,786.9 C1166.3,786.4 1169.6,783.0 1171.0,782.8 C1172.4,782.6 1173.7,785.3 1174.9,785.6 C1176.1,785.9 1178.6,786.4 1180.1,785.0 C1181.6,783.6 1184.8,776.1 1185.9,775.3 C1187.0,774.5 1187.6,777.7 1188.5,779.2 C1189.4,780.7 1191.9,786.5 1193.0,786.9 C1194.1,787.3 1195.6,782.6 1196.8,782.4 C1198.0,782.2 1200.7,784.9 1202.0,785.6 C1203.3,786.3 1205.2,788.3 1206.5,787.6 C1207.8,786.9 1210.5,780.7 1211.7,780.5 C1212.9,780.3 1214.0,785.6 1215.5,786.3 C1217.0,787.0 1221.1,785.4 1222.6,785.4 C1224.1,785.4 1225.5,786.5 1226.5,786.3 C1227.5,786.1 1229.1,783.8 1230.3,783.7 C1231.5,783.6 1233.9,784.9 1235.5,785.4 C1237.1,785.9 1240.2,787.4 1242.0,787.2 C1243.8,787.0 1247.1,784.4 1249.0,784.1 C1250.9,783.8 1255.2,784.9 1256.1,785.0" fill="none" stroke="#e41c22" stroke-width="3.0" stroke-linejoin="round" stroke-linecap="round"/>
<path d="M707.5,937.6 C707.8,937.4 709.0,937.0 709.6,936.1 C710.2,935.2 711.4,931.8 712.1,930.5 C712.8,929.2 713.8,926.7 714.6,926.6 C715.4,926.5 717.2,929.1 718.2,929.5 C719.2,929.9 720.9,928.9 721.8,929.3 C722.7,929.7 724.3,931.6 725.3,932.5 C726.3,933.4 728.2,935.3 729.4,935.8 C730.6,936.2 733.3,936.4 734.5,936.1 C735.7,935.8 737.6,933.8 738.5,933.5 C739.4,933.2 740.7,934.3 741.6,934.0 C742.5,933.7 744.2,931.3 745.1,931.0 C746.0,930.7 747.3,932.5 748.2,932.0 C749.1,931.5 750.8,927.3 751.7,927.4 C752.6,927.5 754.1,931.4 754.8,932.5 C755.5,933.6 756.4,936.6 757.3,935.5 C758.2,934.4 760.9,924.7 761.9,923.9 C762.9,923.1 764.0,927.7 764.9,929.5 C765.8,931.3 767.6,936.9 768.5,937.6 C769.4,938.3 771.0,935.3 772.0,935.0 C773.0,934.7 775.1,935.7 776.1,935.0 C777.1,934.3 778.8,930.2 779.7,930.0 C780.6,929.8 782.3,932.4 783.2,933.5 C784.1,934.6 785.7,938.5 786.8,938.1 C787.9,937.7 790.2,931.3 791.3,930.5 C792.4,929.7 794.4,931.5 795.4,932.0 C796.4,932.5 798.0,934.7 798.9,934.5 C799.8,934.3 801.7,932.4 802.5,930.5 C803.3,928.6 804.6,923.7 805.0,920.3 C805.4,916.9 805.2,914.6 805.5,905.0 C805.8,895.4 806.9,862.2 807.6,848.4 C808.3,834.6 810.1,801.4 810.8,801.4 C811.5,801.4 812.4,834.6 813.0,848.4 C813.6,862.2 815.1,892.6 815.6,905.0 C816.1,917.4 816.1,937.6 816.7,941.6 C817.3,945.6 819.0,936.1 819.8,935.0 C820.6,933.9 821.7,932.9 822.8,933.0 C823.9,933.1 826.9,935.6 827.9,936.1 C828.9,936.6 829.0,936.2 830.0,936.6 C831.0,937.0 833.5,940.1 835.1,939.2 C836.7,938.3 840.4,929.9 842.2,929.5 C844.0,929.1 846.8,935.8 848.3,936.1 C849.8,936.4 851.8,931.3 853.4,931.6 C855.0,931.9 858.9,937.4 860.5,938.2 C862.1,939.0 864.1,938.2 865.5,937.7 C866.9,937.2 869.6,934.0 871.1,934.1 C872.6,934.2 875.1,938.6 876.7,938.7 C878.3,938.8 881.3,935.7 882.8,935.1 C884.3,934.5 886.5,934.0 887.9,934.1 C889.3,934.2 891.8,937.7 893.0,935.6 C894.2,933.5 895.9,922.5 897.0,918.4 C898.1,914.3 900.0,904.6 901.1,904.6 C902.2,904.6 904.3,914.6 905.2,918.4 C906.1,922.2 906.9,931.1 907.7,933.1 C908.5,935.1 910.1,933.0 911.2,933.6 C912.4,934.2 914.8,938.1 916.3,937.7 C917.8,937.3 920.9,930.8 922.4,930.5 C923.9,930.2 926.5,934.0 927.5,935.1 C928.5,936.2 928.9,938.5 930.0,938.7 C931.1,938.9 934.2,936.5 935.6,936.6 C937.0,936.7 939.3,939.7 940.7,939.2 C942.1,938.7 944.5,933.0 946.3,933.1 C948.1,933.2 952.1,939.6 953.9,939.7 C955.7,939.8 958.3,934.4 960.0,934.1 C961.7,933.8 965.2,937.0 966.7,937.8 C968.2,938.6 970.1,940.4 971.4,940.1 C972.7,939.8 975.6,937.5 976.7,935.4 C977.8,933.3 978.7,927.1 979.6,924.3 C980.5,921.5 982.2,914.5 983.1,914.3 C984.0,914.1 985.7,920.2 986.6,923.1 C987.5,926.0 989.4,934.0 990.2,936.0 C991.0,938.0 991.6,938.6 992.5,938.4 C993.4,938.2 995.3,934.7 996.6,934.8 C997.9,934.9 1000.8,938.4 1001.9,939.0 C1003.0,939.6 1003.9,938.6 1004.8,939.0 C1005.7,939.4 1007.2,942.1 1008.3,941.9 C1009.4,941.7 1011.9,937.9 1013.0,937.2 C1014.1,936.5 1015.6,938.0 1016.5,936.6 C1017.4,935.2 1019.1,929.1 1020.0,926.6 C1020.9,924.1 1022.7,918.0 1023.6,917.9 C1024.5,917.8 1026.1,922.9 1027.1,925.5 C1028.1,928.1 1030.2,935.1 1031.2,937.2 C1032.2,939.3 1033.9,941.3 1034.7,941.3 C1035.5,941.3 1036.1,938.3 1037.0,937.2 C1037.9,936.1 1039.5,932.9 1041.1,933.1 C1042.7,933.3 1046.7,938.9 1048.8,939.0 C1050.8,939.1 1054.8,934.1 1056.4,933.7 C1058.0,933.3 1059.0,935.5 1060.5,936.0 C1062.0,936.5 1065.9,936.7 1067.5,937.2 C1069.1,937.7 1071.1,939.9 1072.2,940.1 C1073.3,940.3 1074.8,938.2 1075.7,938.4 C1076.6,938.6 1077.9,941.5 1079.2,941.3 C1080.5,941.1 1083.7,937.1 1085.1,937.2 C1086.5,937.3 1088.4,941.7 1089.8,941.9 C1091.2,942.1 1093.6,939.3 1095.6,938.4 C1097.6,937.5 1102.9,935.3 1105.0,934.8 C1107.1,934.3 1109.8,934.6 1111.2,935.0 C1112.8,935.4 1114.8,938.0 1116.2,937.8 C1117.7,937.5 1120.0,932.6 1121.9,932.8 C1123.8,932.9 1128.6,938.5 1130.6,938.5 C1132.6,938.5 1135.3,933.0 1136.9,932.8 C1138.5,932.5 1141.1,935.8 1142.5,936.2 C1143.9,936.8 1146.2,936.7 1147.5,936.5 C1148.8,936.3 1150.8,935.7 1152.5,935.0 C1154.2,934.3 1158.2,931.3 1160.0,931.2 C1161.8,931.2 1164.9,933.2 1166.2,934.4 C1167.6,935.6 1169.0,940.9 1170.0,940.6 C1171.0,940.3 1172.5,934.2 1173.8,932.5 C1175.0,930.8 1178.2,927.7 1179.4,927.5 C1180.6,927.3 1182.2,929.8 1183.1,931.2 C1184.0,932.7 1185.2,937.7 1186.2,938.1 C1187.3,938.5 1189.9,934.8 1191.2,934.4 C1192.6,934.0 1195.1,934.5 1196.2,935.0 C1197.4,935.5 1199.0,938.1 1200.0,938.1 C1201.0,938.1 1202.4,935.1 1203.8,935.0 C1205.1,934.9 1208.5,936.8 1210.0,937.2 C1211.5,937.7 1213.7,938.3 1215.0,938.1 C1216.3,937.9 1218.7,935.4 1220.0,935.6 C1221.3,935.8 1223.7,939.4 1225.0,939.4 C1226.3,939.4 1229.0,936.1 1230.0,935.6 C1231.0,935.1 1231.3,936.6 1232.5,936.0 C1233.7,935.4 1237.1,930.8 1238.8,931.0 C1240.4,931.2 1243.4,937.5 1245.0,937.8 C1246.6,938.0 1249.1,932.6 1250.6,932.5 C1252.1,932.4 1255.5,936.3 1256.2,936.9" fill="none" stroke="#141414" stroke-width="3.0" stroke-linejoin="round" stroke-linecap="round"/>
<text transform="translate(640.33,542.37) scale(1.0577,1)" font-family='"Liberation Serif", serif' font-weight="bold" font-size="35.84" fill="#111">(d)</text>
<text transform="translate(1119.03,658.75) scale(1.0000,1)" font-family='"Liberation Serif", serif' font-weight="bold" font-size="27.24" fill="#111">Recharged</text>
<text transform="translate(1113.02,759.20) scale(1.0000,1)" font-family='"Liberation Serif", serif' font-weight="bold" font-size="27.23" fill="#111">Discharged</text>
<text transform="translate(1098.73,910.40) scale(1.0000,1)" font-family='"Liberation Serif", serif' font-weight="bold" font-size="27.30" fill="#111">As-prepared</text>
<text transform="translate(842.80,883.62) rotate(-90) scale(1.0319,1)" font-family='"Liberation Serif", serif' font-weight="bold" font-size="27.00" fill="#111">(002)</text>
<text transform="translate(907.80,883.62) rotate(-90) scale(1.0319,1)" font-family='"Liberation Serif", serif' font-weight="bold" font-size="27.00" fill="#111">(012)</text>
<text transform="translate(824.07,1015.30) scale(1.0000,1)" font-family='"Liberation Serif", serif' font-weight="bold" font-size="46.01" fill="#111">2 Theta (degree)</text>
<text transform="translate(686.00,904.75) rotate(-90) scale(1.0000,1)" font-family='"Liberation Serif", serif' font-weight="bold" font-size="46.01" fill="#111">Intensity (a.u.)</text>
</svg>
</body></html>
